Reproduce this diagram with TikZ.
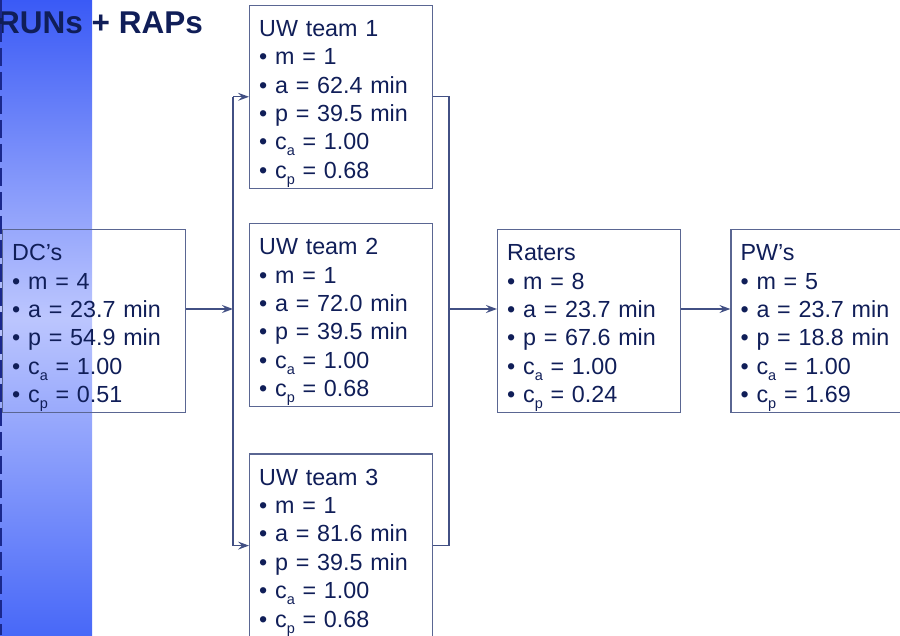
\documentclass[tikz,border=0pt]{standalone}
\usepackage{fontspec}
\setmainfont{Liberation Sans}
\usetikzlibrary{arrows.meta, positioning}
\definecolor{navytext}{RGB}{16, 30, 88}
\definecolor{boxline}{RGB}{90, 102, 146}
\definecolor{linkcolor}{RGB}{66, 80, 132}
\definecolor{dashcolor}{RGB}{26, 40, 140}
\definecolor{bandtop}{RGB}{58, 90, 246}
\definecolor{bandmid}{RGB}{188, 198, 254}
\definecolor{bandbot}{RGB}{72, 104, 248}
\newcommand{\lsub}[1]{\raisebox{-6pt}{\fontsize{14.5}{15}\selectfont #1}}

\begin{document}
\begin{tikzpicture}[
    x=1pt, y=1pt,
    station/.style={draw=boxline, line width=1.4pt, text=navytext, anchor=north west, text width=164pt, inner xsep=9.5pt, inner ysep=0pt, minimum height=183pt, text height=30pt, align=left, font=\fontsize{23.3}{28.4}\selectfont},
    link/.style={linkcolor, line width=1.4pt},
    arrow/.style={link, -{Stealth[length=11pt, width=8pt, inset=4pt]}}
]
    \clip (0,0) rectangle (900,635);

    % Background band and title
    \fill[top color=bandtop, bottom color=bandbot, middle color=bandmid] (0,0) rectangle (92,635);
    \node[anchor=base west, inner sep=0, text=navytext, font=\fontsize{31.5}{36}\selectfont\bfseries] (title) at (-3,601) {RUNs + RAPs};
    \draw[dashcolor, line width=3pt, dash pattern=on 18pt off 6pt] (0,635) -- (0,0);

    % Nodes - stations
    \node[station] (dcs) at (2,406) {DC’s\\• m = 4\\• a = 23.7 min\\• p = 54.9 min\\• c\lsub{a} = 1.00\\• c\lsub{p} = 0.51};
    \node[station] (uw2) at (249,412) {UW team 2\\• m = 1\\• a = 72.0 min\\• p = 39.5 min\\• c\lsub{a} = 1.00\\• c\lsub{p} = 0.68};
    \node[station, above=34pt of uw2] (uw1) {UW team 1\\• m = 1\\• a = 62.4 min\\• p = 39.5 min\\• c\lsub{a} = 1.00\\• c\lsub{p} = 0.68};
    \node[station, below=46pt of uw2] (uw3) {UW team 3\\• m = 1\\• a = 81.6 min\\• p = 39.5 min\\• c\lsub{a} = 1.00\\• c\lsub{p} = 0.68};
    \node[station] (raters) at (497,406) {Raters\\• m = 8\\• a = 23.7 min\\• p = 67.6 min\\• c\lsub{a} = 1.00\\• c\lsub{p} = 0.24};
    \node[station, right=49pt of raters] (pws) {PW’s\\• m = 5\\• a = 23.7 min\\• p = 18.8 min\\• c\lsub{a} = 1.00\\• c\lsub{p} = 1.69};

    % Junctions
    \coordinate (split) at (233,326);
    \coordinate (merge) at (449,326);

    % Arrows
    \draw[arrow] (dcs.east |- split) -- (split);
    \draw[link] (split |- uw1.west) -- (split |- uw3.west);
    \draw[arrow] (split |- uw1.west) -- (uw1.west);
    \draw[arrow] (split |- uw3.west) -- (uw3.west);
    \draw[link] (uw1.east) -| (merge) |- (uw3.east);
    \draw[arrow] (merge) -- (raters.west |- merge);
    \draw[arrow] (raters.east |- merge) -- (pws.west |- merge);
\end{tikzpicture}
\end{document}
